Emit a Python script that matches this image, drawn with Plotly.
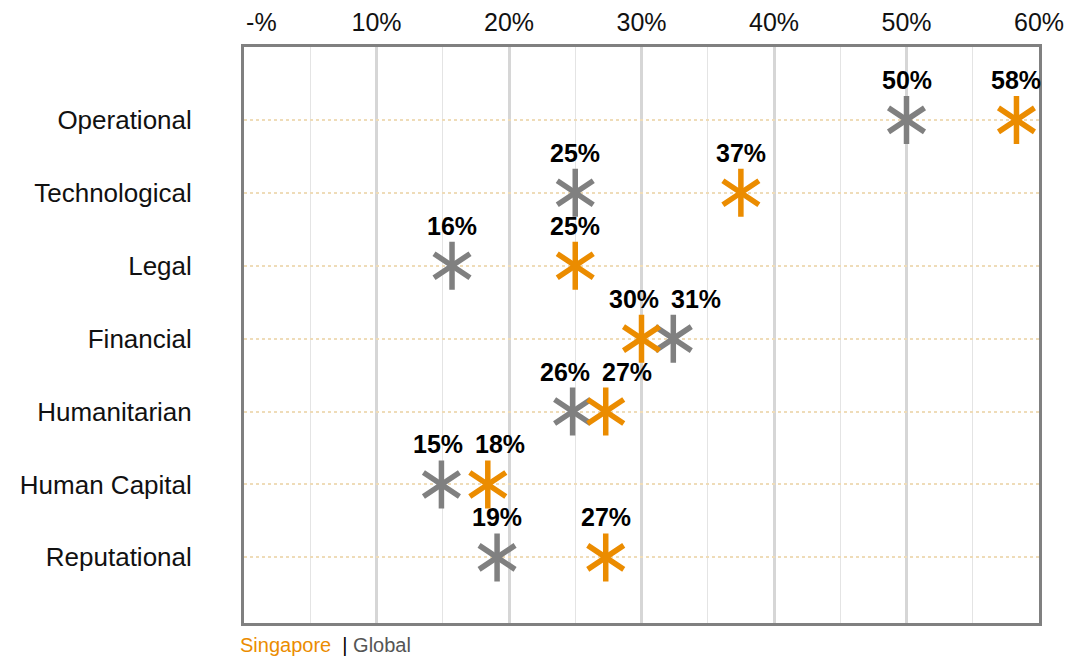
import plotly.graph_objects as go

categories = ["Operational", "Technological", "Legal", "Financial",
              "Humanitarian", "Human Capital", "Reputational"]
singapore = [58.3, 37.5, 25.0, 30.0, 27.3, 18.4, 27.3]
global_ = [50.0, 25.0, 15.7, 32.4, 24.8, 14.9, 19.1]
singapore_labels = ["58%", "37%", "25%", "30%", "27%", "18%", "27%"]
global_labels = ["50%", "25%", "16%", "31%", "26%", "15%", "19%"]
tick_vals = [0, 10, 20, 30, 40, 50, 60]
tick_text = ["\u00a0\u00a0\u00a0\u00a0\u00a0-%", "10%", "20%", "30%", "40%", "50%", "60%"]

ORANGE = "#EB8C00"
GREY = "#808080"
FONT = "Liberation Sans, Arial"

L, R, T, B = 244, 27, 47, 36
W, H = 1066, 659
XMAX = 60
px_per_unit = (W - L - R) / XMAX

fig = go.Figure()

for vals, color in [(global_, GREY), (singapore, ORANGE)]:
    for sym in ["y-up-open", "y-down-open"]:
        fig.add_trace(go.Scatter(
            x=vals, y=categories, mode="markers", showlegend=False,
            hoverinfo="skip",
            marker=dict(symbol=sym, size=30, color=color,
                        line=dict(color=color, width=5.5)),
        ))

# value labels (nudged apart when the two marks are close)
for i, cat in enumerate(categories):
    s, g = singapore[i], global_[i]
    gap = abs(s - g) * px_per_unit
    need = max(0.0, 62 - gap)
    for v, lab, other in [(s, singapore_labels[i], g), (g, global_labels[i], s)]:
        xs = 0
        if need > 0:
            xs = -need * 0.25 if v < other else need * 0.75
        fig.add_annotation(x=v, y=cat, text=lab, showarrow=False,
                           yshift=40, xshift=xs,
                           font=dict(family=FONT, size=25,
                                     color="#000000", weight="bold"))

fig.add_annotation(
    xref="paper", yref="paper", x=-0.006, y=-(B - 2) / (H - T - B),
    xanchor="left", yanchor="bottom", borderpad=0,
    showarrow=False,
    text=f"<span style='color:{ORANGE}'>Singapore</span>  <span style='color:#000'>|</span> <span style='color:#555'>Global</span>",
    font=dict(family=FONT, size=20),
)

fig.update_layout(
    width=W, height=H,
    margin=dict(l=L, r=R, t=T, b=B, autoexpand=False),
    paper_bgcolor="white", plot_bgcolor="white",
    font=dict(family=FONT, size=25, color="#111"),
    xaxis=dict(
        side="top", range=[0, XMAX], tickvals=tick_vals, ticktext=tick_text,
        automargin=False,
        showgrid=True, gridcolor="#d6d6d6", gridwidth=3,
        minor=dict(dtick=5, showgrid=True, gridcolor="#e4e4e4", gridwidth=1),
        showline=True, mirror=True, linecolor=GREY, linewidth=3,
        ticks="outside", ticklen=3, tickcolor="rgba(0,0,0,0)",
        zeroline=False, tickfont=dict(size=25, color="#111"),
    ),
    yaxis=dict(
        categoryorder="array", categoryarray=categories,
        range=[6.9, -1], automargin=False,
        showgrid=True, gridcolor="#efdcb8", gridwidth=2, griddash="dot",
        showline=True, mirror=True, linecolor=GREY, linewidth=3,
        ticks="outside", ticklen=44, tickcolor="rgba(0,0,0,0)",
        zeroline=False, tickfont=dict(size=26, color="#111"),
    ),
)

fig.write_html("out.html")
